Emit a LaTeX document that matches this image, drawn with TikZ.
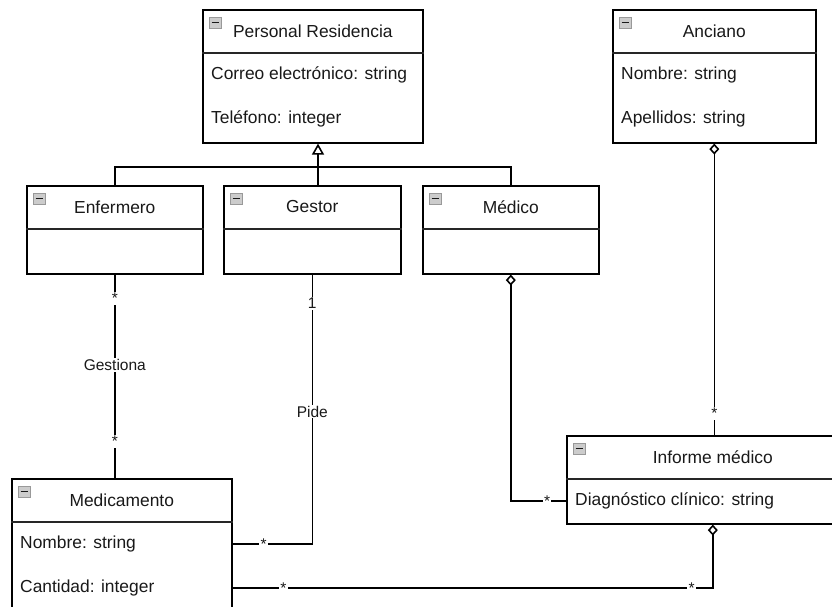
\documentclass[tikz,border=0pt]{standalone}
\usepackage{fontspec}
\setmainfont{Liberation Sans}
\usetikzlibrary{arrows.meta,calc}

\tikzset{
  classbox/.style={draw=black, line width=1.6pt, fill=white, rectangle, anchor=north west, inner sep=0pt},
  boxline/.style={draw=black!85, line width=1.5pt},
  title/.style={font=\fontsize{17.4}{20}\selectfont, text=black!90, inner sep=0pt},
  attr/.style={font=\fontsize{17.4}{20}\selectfont, text=black!90, anchor=west, inner sep=0pt},
  conn/.style={draw=black, line width=1.6pt},
  lbl/.style={font=\fontsize{15.5}{18}\selectfont, text=black!90, fill=white, inner sep=1.2pt},
  agg/.style={{Diamond[open, length=11pt, width=10pt]}-},
  inherit/.style={-{Triangle[open, length=11pt, width=12pt]}},
  iconbox/.style={draw=gray!80, fill=gray!40, line width=0.6pt}
}

% class box with header row, title and collapse icon
\newcommand{\umlbox}[6]{%
  \node[classbox, minimum width=#4pt, minimum height=#5pt] (#1) at (#2,#3) {};
  \draw[boxline] ($(#1.north west)+(0,44)$) -- ($(#1.north east)+(0,44)$);
  \node[title] (#1-t) at ($(#1.north)+(0,22)$) {#6};
  \coordinate (#1-i) at ($(#1.north west)+(7,8)$);
  \draw[iconbox] (#1-i) rectangle ++(12,11);
  \draw[line width=1.2pt, gray!20!black] ($(#1-i)+(2.5,5.5)$) -- ++(7,0);
}

\begin{document}
\begin{tikzpicture}[x=1pt, y=-1pt]
\useasboundingbox (0,0) rectangle (832,606);
\clip (0,0) rectangle (832,606);
\fill[white] (0,0) rectangle (832,606);

% classes
\umlbox{pr}{202}{9}{220}{133}{Personal Residencia}
\node[attr] (pr-a1) at ($(pr.north west)+(9,66)$) {Correo electrónico: string};
\node[attr] (pr-a2) at ($(pr.north west)+(9,110)$) {Teléfono: integer};

\umlbox{anc}{612}{9}{203}{133}{Anciano}
\node[attr] (anc-a1) at ($(anc.north west)+(9,66)$) {Nombre: string};
\node[attr] (anc-a2) at ($(anc.north west)+(9,110)$) {Apellidos: string};

\umlbox{enf}{26}{185}{176}{88}{Enfermero}
\umlbox{gestor}{223}{185}{177}{88}{Gestor}
\umlbox{medico}{422}{185}{176}{88}{Médico}

\umlbox{inf}{566}{435}{292}{88}{Informe médico}
\node[attr] (inf-a1) at ($(inf.north west)+(9,66)$) {Diagnóstico clínico: string};

\umlbox{med}{11}{478}{220}{140}{Medicamento}
\node[attr] (med-a1) at ($(med.north west)+(9,66)$) {Nombre: string};
\node[attr] (med-a2) at ($(med.north west)+(9,110)$) {Cantidad: integer};

% generalisation
\coordinate (junc) at (318,167);
\draw[conn] (enf.north) |- (junc) -| (medico.north);
\draw[conn] (junc |- gestor.north) -- (junc);
\draw[conn, inherit] (junc) -- (junc |- pr.south);

% associations
\draw[conn] (enf.south) -- (enf.south |- med.north)
  node[lbl, pos=0.117] {*}
  node[lbl, pos=0.444] {Gestiona}
  node[lbl, pos=0.82] {*};

\draw[conn] (gestor.south) |- (med.east |- med-a1.west)
  node[lbl, pos=0.053] {1}
  node[lbl, pos=0.254] {Pide}
  node[lbl, pos=0.806] {*};

\draw[conn, agg] (medico.south) |- (inf.west |- inf-a1.west)
  node[lbl, pos=0.83] {*};

\draw[conn, agg] (anc.south) -- (anc.south |- inf.north)
  node[lbl, pos=0.925] {*};

\draw[conn, agg] (inf.south) |- (med.east |- med-a2.west)
  node[lbl, pos=0.522] {*}
  node[lbl, pos=0.947] {*};
\end{tikzpicture}
\end{document}
